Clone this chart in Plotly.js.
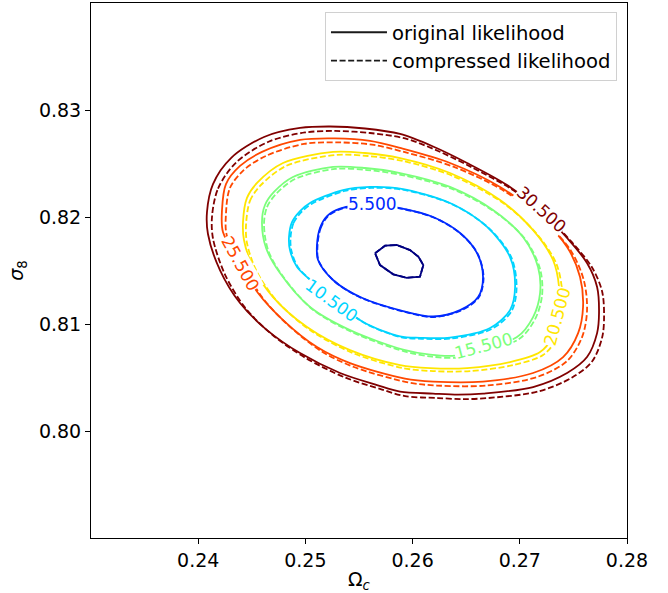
<!DOCTYPE html>
<html><head><meta charset="utf-8">
<script src="https://cdn.plot.ly/plotly-3.0.1.min.js"></script>
<style>html,body{margin:0;padding:0;background:#fff}</style>
</head><body><div id="chart" style="width:668px;height:593px"></div>
<script>
// contour levels of -2 ln L
const levels = [0.5, 5.5, 10.5, 15.5, 20.5, 25.5, 30.5];
const levelColors = ['#000080', '#002aff', '#00d4ff', '#7bff7b', '#ffe600', '#ff4800', '#800000'];

// ---- original likelihood contours ----
const orig05x = [0.25650, 0.25743, 0.25852, 0.25976, 0.26054, 0.26100, 0.26069, 0.25945, 0.25820, 0.25696];
const orig05y = [0.81661, 0.81732, 0.81738, 0.81691, 0.81629, 0.81551, 0.81442, 0.81432, 0.81464, 0.81551];

const orig55x = [0.25108, 0.25136, 0.25202, 0.25323, 0.25622, 0.25883, 0.26191, 0.26443, 0.26601, 0.26657, 0.26611, 0.26443, 0.26191, 0.25911, 0.25510, 0.25258, 0.25118];
const orig55y = [0.81738, 0.81897, 0.82009, 0.82079, 0.82112, 0.82084, 0.82000, 0.81850, 0.81663, 0.81439, 0.81252, 0.81130, 0.81070, 0.81121, 0.81252, 0.81411, 0.81598];

const orig105x = [0.24847, 0.24875, 0.24950, 0.25043, 0.25351, 0.25603, 0.25883, 0.26349, 0.26695, 0.26909, 0.26956, 0.26909, 0.26723, 0.26349, 0.26069, 0.25883, 0.25538, 0.25230, 0.24922, 0.24856];
const orig105y = [0.81813, 0.81953, 0.82056, 0.82131, 0.82252, 0.82281, 0.82266, 0.82131, 0.81907, 0.81626, 0.81346, 0.81130, 0.80962, 0.80873, 0.80871, 0.80885, 0.81018, 0.81261, 0.81533, 0.81691];

const orig155x = [0.24595, 0.24623, 0.24707, 0.24884, 0.25258, 0.25556, 0.25883, 0.26349, 0.26750, 0.27030, 0.27170, 0.27189, 0.27124, 0.26974, 0.26657, 0.26396, 0.26163, 0.25911, 0.25416, 0.25043, 0.24763, 0.24633];
const orig155y = [0.81953, 0.82112, 0.82234, 0.82374, 0.82468, 0.82458, 0.82411, 0.82281, 0.82065, 0.81813, 0.81533, 0.81289, 0.81065, 0.80878, 0.80775, 0.80705, 0.80714, 0.80761, 0.80943, 0.81159, 0.81476, 0.81710];

const orig205x = [0.24418, 0.24455, 0.24549, 0.24791, 0.25258, 0.25556, 0.25883, 0.26349, 0.26816, 0.27124, 0.27310, 0.27366, 0.27357, 0.27301, 0.27189, 0.26909, 0.26508, 0.26163, 0.25883, 0.25416, 0.25015, 0.24698, 0.24511, 0.24427];
const orig205y = [0.81953, 0.82178, 0.82318, 0.82505, 0.82608, 0.82598, 0.82551, 0.82411, 0.82159, 0.81878, 0.81598, 0.81346, 0.81065, 0.80869, 0.80738, 0.80644, 0.80588, 0.80588, 0.80616, 0.80756, 0.80972, 0.81252, 0.81533, 0.81785];

const orig255x = [0.24222, 0.24259, 0.24390, 0.24595, 0.24950, 0.25276, 0.25603, 0.25883, 0.26349, 0.26816, 0.27189, 0.27441, 0.27562, 0.27590, 0.27544, 0.27404, 0.27124, 0.26657, 0.26191, 0.25929, 0.25416, 0.25108, 0.24791, 0.24558, 0.24390, 0.24231];
const orig255y = [0.82065, 0.82308, 0.82477, 0.82608, 0.82720, 0.82734, 0.82711, 0.82645, 0.82505, 0.82281, 0.82000, 0.81720, 0.81439, 0.81159, 0.80915, 0.80691, 0.80542, 0.80462, 0.80462, 0.80490, 0.80635, 0.80785, 0.81037, 0.81289, 0.81570, 0.81860];

const orig305x = [0.24082, 0.24138, 0.24306, 0.24614, 0.24950, 0.25230, 0.25556, 0.25883, 0.26191, 0.26508, 0.26881, 0.27189, 0.27441, 0.27627, 0.27721, 0.27739, 0.27721, 0.27627, 0.27441, 0.27124, 0.26657, 0.26424, 0.26191, 0.25883, 0.25668, 0.25323, 0.24950, 0.24642, 0.24390, 0.24203, 0.24091];
const orig305y = [0.82047, 0.82308, 0.82551, 0.82748, 0.82832, 0.82846, 0.82827, 0.82776, 0.82659, 0.82505, 0.82299, 0.82065, 0.81804, 0.81570, 0.81346, 0.81102, 0.80915, 0.80691, 0.80542, 0.80411, 0.80350, 0.80340, 0.80350, 0.80368, 0.80429, 0.80542, 0.80728, 0.80943, 0.81196, 0.81504, 0.81841];

// ---- compressed likelihood contours ----
const comp05x = [0.25650, 0.25743, 0.25852, 0.25976, 0.26054, 0.26100, 0.26069, 0.25945, 0.25820, 0.25696];
const comp05y = [0.81661, 0.81732, 0.81738, 0.81691, 0.81629, 0.81551, 0.81442, 0.81432, 0.81464, 0.81551];

const comp55x = [0.25113, 0.25141, 0.25207, 0.25328, 0.25627, 0.25888, 0.26196, 0.26448, 0.26606, 0.26662, 0.26616, 0.26448, 0.26196, 0.25916, 0.25515, 0.25263, 0.25123];
const comp55y = [0.81733, 0.81892, 0.82004, 0.82074, 0.82107, 0.82079, 0.81995, 0.81845, 0.81658, 0.81434, 0.81247, 0.81125, 0.81065, 0.81116, 0.81247, 0.81406, 0.81593];

const comp105x = [0.24861, 0.24889, 0.24964, 0.25057, 0.25365, 0.25617, 0.25897, 0.26363, 0.26709, 0.26923, 0.26970, 0.26923, 0.26737, 0.26363, 0.26083, 0.25897, 0.25552, 0.25244, 0.24936, 0.24870];
const comp105y = [0.81804, 0.81944, 0.82047, 0.82122, 0.82243, 0.82272, 0.82257, 0.82122, 0.81898, 0.81617, 0.81337, 0.81121, 0.80953, 0.80864, 0.80862, 0.80876, 0.81009, 0.81252, 0.81524, 0.81682];

const comp155x = [0.24614, 0.24642, 0.24726, 0.24903, 0.25277, 0.25575, 0.25902, 0.26368, 0.26769, 0.27049, 0.27189, 0.27208, 0.27143, 0.26993, 0.26676, 0.26415, 0.26182, 0.25930, 0.25435, 0.25062, 0.24782, 0.24652];
const comp155y = [0.81934, 0.82093, 0.82215, 0.82355, 0.82449, 0.82439, 0.82392, 0.82262, 0.82046, 0.81794, 0.81514, 0.81270, 0.81046, 0.80859, 0.80756, 0.80686, 0.80695, 0.80742, 0.80924, 0.81140, 0.81457, 0.81691];

const comp205x = [0.24446, 0.24483, 0.24577, 0.24819, 0.25286, 0.25584, 0.25911, 0.26377, 0.26844, 0.27152, 0.27338, 0.27394, 0.27385, 0.27329, 0.27217, 0.26937, 0.26536, 0.26191, 0.25911, 0.25444, 0.25043, 0.24726, 0.24539, 0.24455];
const comp205y = [0.81925, 0.82150, 0.82290, 0.82477, 0.82580, 0.82570, 0.82523, 0.82383, 0.82131, 0.81850, 0.81570, 0.81318, 0.81037, 0.80841, 0.80710, 0.80616, 0.80560, 0.80560, 0.80588, 0.80728, 0.80944, 0.81224, 0.81505, 0.81757];

const comp255x = [0.24259, 0.24296, 0.24427, 0.24632, 0.24987, 0.25313, 0.25640, 0.25920, 0.26386, 0.26853, 0.27226, 0.27478, 0.27599, 0.27627, 0.27581, 0.27441, 0.27161, 0.26694, 0.26228, 0.25966, 0.25453, 0.25145, 0.24828, 0.24595, 0.24427, 0.24268];
const comp255y = [0.82028, 0.82271, 0.82440, 0.82571, 0.82683, 0.82697, 0.82674, 0.82608, 0.82468, 0.82244, 0.81963, 0.81683, 0.81402, 0.81122, 0.80878, 0.80654, 0.80505, 0.80425, 0.80425, 0.80453, 0.80598, 0.80748, 0.81000, 0.81252, 0.81533, 0.81823];

const comp305x = [0.24129, 0.24185, 0.24353, 0.24661, 0.24997, 0.25277, 0.25603, 0.25930, 0.26238, 0.26555, 0.26928, 0.27236, 0.27488, 0.27674, 0.27768, 0.27786, 0.27768, 0.27674, 0.27488, 0.27171, 0.26704, 0.26471, 0.26238, 0.25930, 0.25715, 0.25370, 0.24997, 0.24689, 0.24437, 0.24250, 0.24138];
const comp305y = [0.82005, 0.82266, 0.82509, 0.82706, 0.82790, 0.82804, 0.82785, 0.82734, 0.82617, 0.82463, 0.82257, 0.82023, 0.81762, 0.81528, 0.81304, 0.81060, 0.80873, 0.80649, 0.80500, 0.80369, 0.80308, 0.80298, 0.80308, 0.80326, 0.80387, 0.80500, 0.80686, 0.80901, 0.81154, 0.81462, 0.81799];

// inline contour labels (data coordinates)
const labelText = ['5.500', '10.500', '15.500', '20.500', '25.500', '30.500'];
const labelX = [0.25622, 0.25239, 0.26657, 0.27348, 0.24390, 0.27198];
const labelY = [0.82122, 0.81224, 0.80794, 0.81065, 0.81570, 0.82075];

// axis ticks
const xTicks = [0.24, 0.25, 0.26, 0.27, 0.28];
const yTicks = [0.80, 0.81, 0.82, 0.83];

// ---------- build figure ----------
const origX = [orig05x, orig55x, orig105x, orig155x, orig205x, orig255x, orig305x];
const origY = [orig05y, orig55y, orig105y, orig155y, orig205y, orig255y, orig305y];
const compX = [comp05x, comp55x, comp105x, comp155x, comp205x, comp255x, comp305x];
const compY = [comp05y, comp55y, comp105y, comp155y, comp205y, comp255y, comp305y];

function closed(a) { return a.concat([a[0]]); }

const traces = [];
for (let i = 0; i < levels.length; i++) {
  const shape = i === 0 ? 'linear' : 'spline';
  traces.push({
    type: 'scatter', mode: 'lines', x: closed(origX[i]), y: closed(origY[i]),
    line: { color: levelColors[i], width: 1.8, shape: shape, smoothing: 0.9 },
    showlegend: false, hoverinfo: 'skip'
  });
}
for (let i = 0; i < levels.length; i++) {
  const shape = i === 0 ? 'linear' : 'spline';
  traces.push({
    type: 'scatter', mode: 'lines', x: closed(compX[i]), y: closed(compY[i]),
    line: { color: levelColors[i], width: 1.8, dash: '6px,2.6px', shape: shape, smoothing: 0.9 },
    showlegend: false, hoverinfo: 'skip'
  });
}
// legend entries
traces.push({ type: 'scatter', mode: 'lines', x: [null], y: [null], name: 'original likelihood',
  line: { color: '#1a1a1a', width: 1.8 } });
traces.push({ type: 'scatter', mode: 'lines', x: [null], y: [null], name: 'compressed likelihood',
  line: { color: '#1a1a1a', width: 1.8, dash: '6px,2.6px' } });

const labelAngles = [0, 36, -15, -75, 61, 42];
const annotations = labelText.map((t, k) => ({
  x: labelX[k], y: labelY[k], xref: 'x', yref: 'y', text: t, showarrow: false,
  textangle: labelAngles[k], bgcolor: '#ffffff', borderpad: 0,
  font: { family: 'DejaVu Sans', size: 17, color: levelColors[k + 1] }
}));

const font = { family: 'DejaVu Sans', size: 19, color: '#000000' };
const layout = {
  width: 668, height: 593,
  margin: { l: 91, r: 41, t: 3, b: 55, pad: 0 },
  paper_bgcolor: '#ffffff', plot_bgcolor: '#ffffff',
  font: font,
  showlegend: true,
  legend: {
    x: 0.9813, xanchor: 'right', y: 0.9832, yanchor: 'top',
    bgcolor: 'rgba(255,255,255,0.8)', bordercolor: '#d0d0d0', borderwidth: 1,
    itemwidth: 56,
    font: { family: 'DejaVu Sans', size: 19.6, color: '#000000' }
  },
  xaxis: {
    range: [0.23, 0.28], tickvals: xTicks, tickformat: '.2f',
    ticks: 'outside', ticklen: 5, tickwidth: 1, tickcolor: '#000',
    showline: true, linecolor: '#000', linewidth: 1, mirror: true,
    showgrid: false, zeroline: false, tickfont: font,
    title: { text: 'Ω<sub><i>c</i></sub>', font: font, standoff: 6 }
  },
  yaxis: {
    range: [0.79, 0.84], tickvals: yTicks, tickformat: '.2f',
    ticks: 'outside', ticklen: 5, tickwidth: 1, tickcolor: '#000',
    showline: true, linecolor: '#000', linewidth: 1, mirror: true,
    showgrid: false, zeroline: false, tickfont: font,
    title: { text: '<i>σ</i><sub>8</sub>', font: font, standoff: 10 }
  },
  annotations: annotations
};

Plotly.newPlot('chart', traces, layout, { displayModeBar: false, staticPlot: true });
</script></body></html>
